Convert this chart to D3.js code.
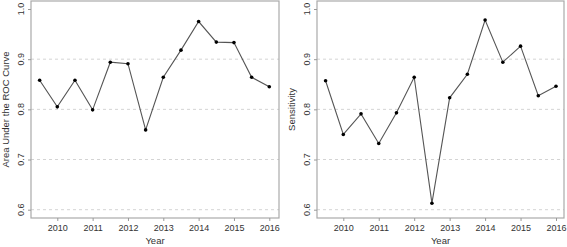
<!DOCTYPE html>
<html><head><meta charset="utf-8">
<script src="https://cdn.jsdelivr.net/npm/d3@7"></script>
<style>body{margin:0;background:#fff}svg{display:block;font-family:"Liberation Sans",Arial,sans-serif}</style>
</head><body>
<script>
const years = [2009.5,2010,2010.5,2011,2011.5,2012,2012.5,2013,2013.5,2014,2014.5,2015,2015.5,2016];
const aucValues = [0.858,0.805,0.858,0.799,0.894,0.891,0.759,0.864,0.918,0.975,0.934,0.933,0.864,0.845];
const sensValues = [0.857,0.750,0.791,0.732,0.793,0.864,0.613,0.823,0.870,0.978,0.894,0.926,0.827,0.846];
const xTicks = [2010,2011,2012,2013,2014,2015,2016];
const yTicks = [0.6,0.7,0.8,0.9,1.0];
const gridTicks = [0.6,0.7,0.8,0.9];
const panels = [
  {title:"Area Under the ROC Curve", values:aucValues, left:31, right:279, x0:57.3, x1:269.3},
  {title:"Sensitivity", values:sensValues, left:317, right:564, x0:343.3, x1:556}
];
const W=567,H=247, boxTop=1, boxBottom=218;
const svg=d3.select("body").append("svg").attr("width",W).attr("height",H);
const y=d3.scaleLinear().domain([0.6,1.0]).range([209.7,9]);
panels.forEach(p=>{
  const x=d3.scaleLinear().domain([2010,2016]).range([p.x0,p.x1]);
  const g=svg.append("g");
  g.selectAll(".grid").data(gridTicks).join("line")
    .attr("x1",p.left).attr("x2",p.right).attr("y1",d=>y(d)).attr("y2",d=>y(d))
    .attr("stroke","#d4d4d4").attr("stroke-width",1).attr("stroke-dasharray","3,3");
  g.append("rect").attr("x",p.left).attr("y",boxTop).attr("width",p.right-p.left).attr("height",boxBottom-boxTop)
    .attr("fill","none").attr("stroke","#aaa").attr("stroke-width",1.2);
  const xa=g.append("g").attr("transform",`translate(0,${boxBottom})`)
    .call(d3.axisBottom(x).tickValues(xTicks).tickFormat(d3.format("d")).tickSize(3).tickPadding(4));
  xa.select(".domain").remove();
  xa.selectAll("line").attr("stroke","#999");
  xa.selectAll("text").attr("font-size",9).attr("fill","#333").attr("font-family","Liberation Sans, Arial, sans-serif");
  const ya=g.append("g").attr("transform",`translate(${p.left},0)`)
    .call(d3.axisLeft(y).tickValues(yTicks).tickFormat(d3.format(".1f")).tickSize(3));
  ya.select(".domain").remove();
  ya.selectAll("line").attr("stroke","#999");
  ya.selectAll("text").remove();
  g.selectAll(".ylab").data(yTicks).join("text")
    .attr("transform",d=>`translate(${p.left-7.5},${y(d)}) rotate(-90)`)
    .attr("text-anchor","middle").attr("font-size",9).attr("fill","#333").text(d3.format(".1f"));
  g.append("text").attr("transform",`translate(${p.left-22.5},${(boxTop+boxBottom)/2}) rotate(-90)`)
    .attr("text-anchor","middle").attr("font-size",9.5).attr("fill","#333").text(p.title);
  g.append("text").attr("x",(p.left+p.right)/2).attr("y",244).attr("text-anchor","middle")
    .attr("font-size",9.5).attr("fill","#333").text("Year");
  const line=d3.line().x((d,i)=>x(years[i])).y(d=>y(d));
  g.append("path").attr("d",line(p.values)).attr("fill","none").attr("stroke","#555").attr("stroke-width",1.1);
  g.selectAll(".pt").data(p.values).join("circle")
    .attr("cx",(d,i)=>x(years[i])).attr("cy",d=>y(d)).attr("r",1.8).attr("fill","#000");
});
</script>
</body></html>
